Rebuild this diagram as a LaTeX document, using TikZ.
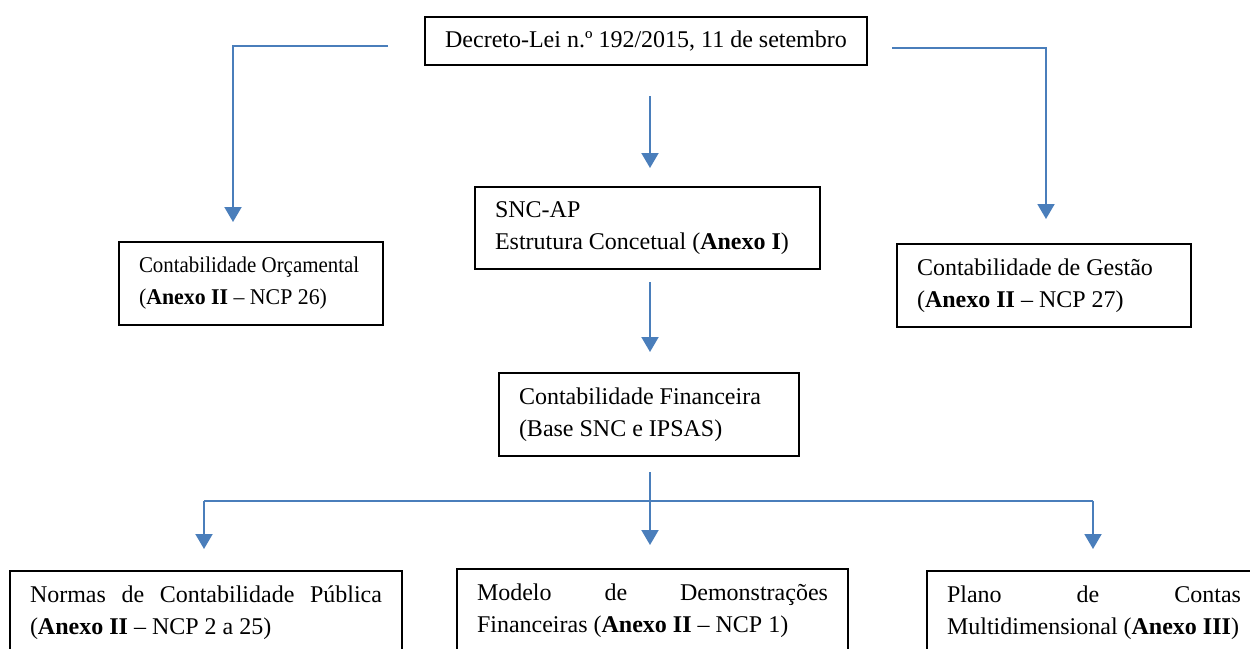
\documentclass[tikz,border=0pt]{standalone}
\usepackage{fontspec}
\setmainfont{Liberation Serif}
\usetikzlibrary{arrows.meta}
\definecolor{linkblue}{HTML}{4A7EBB}
\begin{document}
\begin{tikzpicture}[x=1pt,y=-1pt,
  box/.style={draw=black,line width=2pt,inner xsep=20pt,inner ysep=0pt,
    anchor=north west,align=flush left,font=\fontsize{24}{32.5}\selectfont},
  smallbox/.style={box,font=\fontsize{22.5}{32}\selectfont},
  link/.style={draw=linkblue,line width=2pt},
  arrowlink/.style={link,-{Triangle[width=17pt,length=15pt]}}]
\useasboundingbox (0,0) rectangle (1250,648);
\clip (0,0) rectangle (1250,648);

% boxes
\node[box,align=center,minimum width=442pt,minimum height=48pt] (dl) at (424,16)
  {Decreto-Lei n.º 192/2015, 11 de setembro};
\node[box,text width=305pt,minimum height=82pt] (snc) at (474,186)
  {\mbox{SNC-AP}\\\mbox{Estrutura Concetual (\textbf{Anexo I})}};
\node[smallbox,text width=224pt,minimum height=83pt] (orc) at (118,241)
  {\scalebox{0.93}[1]{Contabilidade Orçamental}\\\scalebox{0.97}[1]{(\textbf{Anexo II} -- NCP 26)}};
\node[box,text width=254pt,minimum height=83pt] (ges) at (896,243)
  {\mbox{Contabilidade de Gestão}\\\mbox{(\textbf{Anexo II} -- NCP 27)}};
\node[box,text width=260pt,minimum height=83pt] (fin) at (498,372)
  {\mbox{Contabilidade Financeira}\\\mbox{(Base SNC e IPSAS)}};
\node[box,text width=352pt,minimum height=83pt] (ncp) at (9,570)
  {\hbox to \linewidth{Normas\hfill de\hfill Contabilidade\hfill Pública}\\\mbox{(\textbf{Anexo II} -- NCP 2 a 25)}};
\node[box,text width=351pt,minimum height=83pt] (mdf) at (456,568)
  {\hbox to \linewidth{Modelo\hfill de\hfill Demonstrações}\\\mbox{Financeiras (\textbf{Anexo II} -- NCP 1)}};
\node[box,text width=294pt,minimum height=83pt] (pcm) at (926,570)
  {\hbox to \linewidth{Plano\hfill de\hfill Contas}\\\mbox{Multidimensional (\textbf{Anexo III})}};

% connector end points
\coordinate (lstart) at (388,46);
\coordinate (ltip) at (233,222);
\coordinate (rstart) at (892,48);
\coordinate (rtip) at (1046,219);
\coordinate (ctop) at (650,64);
\coordinate (cmid) at (650,268);
\coordinate (bus) at (650,501);
\coordinate (busl) at (204,501);
\coordinate (busr) at (1093,501);

% connectors
\draw[arrowlink] (lstart) -| (ltip);
\draw[arrowlink] (rstart) -| (rtip);
\draw[arrowlink,shorten <=32pt,shorten >=18pt] (ctop) -- (ctop |- snc.north);
\draw[arrowlink,shorten <=14pt,shorten >=20pt] (cmid) -- (cmid |- fin.north);
\draw[link] (busl) -- (busr);
\draw[arrowlink,shorten <=15pt] (bus |- fin.south) -- ([yshift=-44pt]bus);
\draw[arrowlink] (busl) -- ([yshift=-48pt]busl);
\draw[arrowlink] (busr) -- ([yshift=-48pt]busr);
\end{tikzpicture}
\end{document}
